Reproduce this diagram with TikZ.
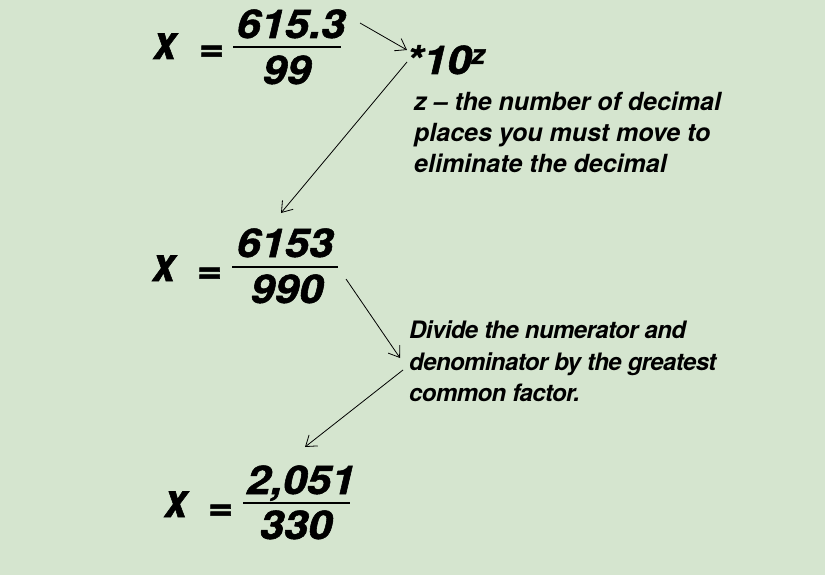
\documentclass[tikz,border=0pt]{standalone}
\usepackage{fontspec}
\setmainfont{TeX Gyre Heros}
\newfontfamily\heavyfont[FakeBold=1.3]{TeX Gyre Heros}
\newfontfamily\tightfont[LetterSpace=-2.5]{TeX Gyre Heros}
\usetikzlibrary{arrows.meta}
\definecolor{bgcol}{HTML}{D5E5CF}
\newcommand{\widen}[1]{\scalebox{1.1}[1]{#1}}
\newcommand{\tallx}{\scalebox{1}[1.18]{x}}
\tikzset{
  big/.style={inner sep=0pt, anchor=base, font=\heavyfont\fontsize{39.5}{40}\selectfont\bfseries\itshape},
  bigx/.style={inner sep=0pt, anchor=base, font=\heavyfont\fontsize{40}{40}\selectfont\bfseries\itshape},
  frac/.style={line width=2.3pt},
  note/.style={inner sep=0pt, anchor=north west, align=left, font=\fontsize{25}{31}\selectfont\bfseries\itshape},
  note2/.style={inner sep=0pt, anchor=north west, align=left, font=\tightfont\fontsize{24}{31.5}\selectfont\bfseries\itshape},
  arr/.style={line width=0.8pt, -{Straight Barb[length=10pt,width=14pt]}},
}
\begin{document}
\begin{tikzpicture}[x=1pt,y=-1pt]
\fill[bgcol] (0,0) rectangle (825,575);
\useasboundingbox (0,0) rectangle (825,575);
% first equation
\node[bigx] (x1) at (165,59) {\tallx};
\node[big] (e1) at (211,61) {\widen{=}};
\node[big] (n1) at (291,38) {\widen{615.3}};
\node[big] (d1) at (287,84) {\widen{99}};
\coordinate (l1a) at (233,47); \coordinate (l1b) at (341,47);
\draw[frac] (l1a) -- (l1b);
\node[big, anchor=base west] (s1) at (406,74) {\widen{*10}\raisebox{10pt}{\fontsize{27}{27}\selectfont z}};
\node[note] (t1) at (414,92) {z -- the number of decimal\\places you must move to\\eliminate the decimal};
\coordinate (a1s) at (360,23);
\coordinate (a1e) at (407,50);
\draw[arr] (a1s) -- (a1e);
\coordinate (a2s) at (407,62);
\coordinate (a2e) at (281,213);
\draw[arr] (a2s) -- (a2e);
% second equation
\node[bigx] (x2) at (164,281) {\tallx};
\node[big] (e2) at (209,283) {\widen{=}};
\node[big] (n2) at (285,257) {\widen{6153}};
\node[big] (d2) at (287,303) {\widen{990}};
\coordinate (l2a) at (232,267); \coordinate (l2b) at (338,267);
\draw[frac] (l2a) -- (l2b);
\node[note2] (t2) at (409,321) {Divide the numerator and\\denominator by the greatest\\common factor.};
\coordinate (a3s) at (346,279);
\coordinate (a3e) at (400,358);
\draw[arr] (a3s) -- (a3e);
\coordinate (a4s) at (403,370);
\coordinate (a4e) at (305,447);
\draw[arr] (a4s) -- (a4e);
% third equation
\node[bigx] (x3) at (176,517) {\tallx};
\node[big] (e3) at (220,520) {\widen{=}};
\node[big] (n3) at (301,494) {\widen{2,051}};
\node[big] (d3) at (296,539) {\widen{330}};
\coordinate (l3a) at (243,503); \coordinate (l3b) at (350,503);
\draw[frac] (l3a) -- (l3b);
\end{tikzpicture}
\end{document}
